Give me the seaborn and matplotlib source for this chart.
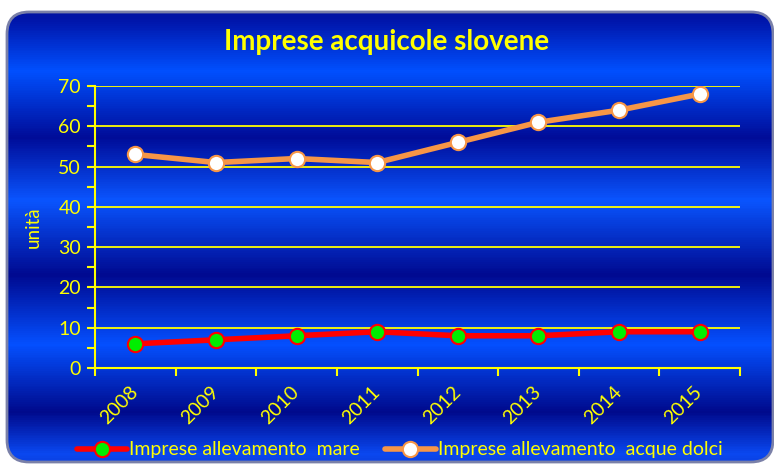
import numpy as np
import pandas as pd
import seaborn as sns
import matplotlib.pyplot as plt
from matplotlib.patches import FancyBboxPatch
from matplotlib.colors import LinearSegmentedColormap

years = ["2008", "2009", "2010", "2011", "2012", "2013", "2014", "2015"]
mare = [6, 7, 8, 9, 8, 8, 9, 9]
acque_dolci = [53, 51, 52, 51, 56, 61, 64, 68]
label_mare = "Imprese allevamento  mare"
label_dolci = "Imprese allevamento  acque dolci"

sns.set_style("white")
plt.rcParams["font.family"] = ["Lato", "DejaVu Sans"]

W, H = 774, 466
fig = plt.figure(figsize=(W / 100, H / 100), dpi=100)
fig.patch.set_facecolor("white")

# background: rounded panel with banded blue gradient
bg = fig.add_axes([0, 0, 1, 1])
bg.set_xlim(0, W)
bg.set_ylim(H, 0)
bg.axis("off")
stops = [(0, "#00109a"), (18 / H, "#0014a8"), (70 / H, "#0050ff"), (137 / H, "#000c98"),
         (200 / H, "#0a55ff"), (275 / H, "#000a90"), (345 / H, "#0550ff"),
         (413 / H, "#000a8c"), (455 / H, "#0a48f0"), (1, "#0a40e0")]
cmap = LinearSegmentedColormap.from_list("bands", stops)
grad = np.linspace(0, 1, 466).reshape(-1, 1)
im = bg.imshow(grad, cmap=cmap, aspect="auto", extent=[0, W, H, 0], zorder=0)
panel = FancyBboxPatch((7, 12), W - 8, H - 16, boxstyle="round,pad=0,rounding_size=22",
                       transform=bg.transData, facecolor="none", edgecolor="#7a80a8", lw=2, zorder=1)
bg.add_patch(panel)
im.set_clip_path(panel)

ax = fig.add_axes([95 / W, 1 - 368 / H, (740 - 95) / W, (368 - 86) / H])
ax.patch.set_alpha(0)

df = pd.DataFrame({"anno": list(range(len(years))) * 2,
                   "valore": mare + acque_dolci,
                   "serie": [label_mare] * len(years) + [label_dolci] * len(years)})

sns.lineplot(data=df[df["serie"] == label_mare], x="anno", y="valore", ax=ax,
             color="#ff0000", lw=4, marker="o", markersize=11,
             markerfacecolor="#00ee00", markeredgecolor="#ff0000", markeredgewidth=1.5,
             label=label_mare, zorder=4)
sns.lineplot(data=df[df["serie"] == label_dolci], x="anno", y="valore", ax=ax,
             color="#f79646", lw=4, marker="o", markersize=11,
             markerfacecolor="white", markeredgecolor="#f79646", markeredgewidth=1.5,
             label=label_dolci, zorder=4)

yellow = "#ffff00"
ax.set_xlim(-0.5, len(years) - 0.5)
ax.set_ylim(0, 70)
ax.set_yticks(range(0, 71, 10))
ax.set_yticks(range(5, 70, 10), minor=True)
ax.set_xticks(np.arange(-0.5, len(years), 1))
ax.set_xticklabels([])
ax.set_xticks(range(len(years)), minor=True)
ax.set_xticklabels(years, minor=True, rotation=45, ha="right", va="center",
                   rotation_mode="anchor", color=yellow, fontsize=14)
ax.tick_params(axis="x", which="minor", length=0, pad=15, bottom=True)
ax.tick_params(axis="x", which="major", length=6, color=yellow, width=1.5, direction="out", bottom=True)
ax.tick_params(axis="y", which="both", length=6, color=yellow, width=1.5, direction="out",
               labelcolor=yellow, labelsize=14, left=True, pad=4)
ax.grid(axis="y", which="major", color=yellow, lw=1.3)
for side in ["top", "right"]:
    ax.spines[side].set_visible(False)
for side in ["left", "bottom"]:
    ax.spines[side].set_color(yellow)
    ax.spines[side].set_linewidth(1.5)
ax.set_xlabel("")
ax.set_ylabel("unità", color=yellow, fontsize=13.5, labelpad=12)

fig.text(0.5, 1 - 42 / H, "Imprese acquicole slovene", ha="center", va="center",
         color=yellow, fontsize=20, fontweight="bold")

leg = ax.legend(loc="center", bbox_to_anchor=(0.5 - 18 / (740 - 95), -(450 - 368) / (368 - 86)),
                ncol=2, frameon=False, fontsize=14, handlelength=2.6, columnspacing=1.3,
                handletextpad=0.1)
for t in leg.get_texts():
    t.set_color(yellow)

fig.savefig("out.png", dpi=100)
